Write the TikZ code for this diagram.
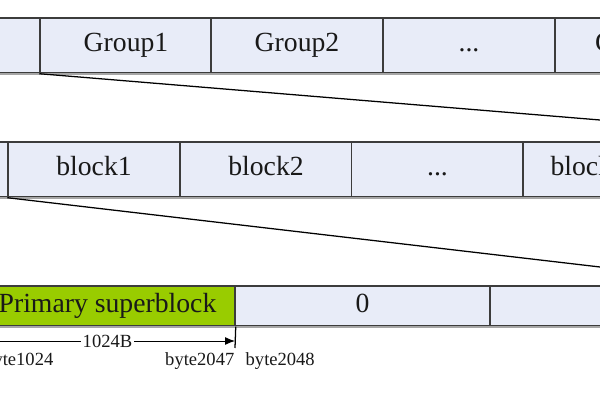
\documentclass[tikz,border=0pt]{standalone}
\usepackage{fontspec}
\setmainfont{Liberation Serif}
\usetikzlibrary{arrows.meta}
\definecolor{cellfill}{RGB}{232,236,248}
\definecolor{sbgreen}{RGB}{153,204,0}
\definecolor{edge}{RGB}{60,60,60}
\begin{document}
\begin{tikzpicture}[x=0.025cm, y=-0.025cm, >={Latex[length=7pt, width=5.5pt]},
        cell/.style={rectangle, draw=edge, fill=cellfill, line width=1pt, minimum width=4.3cm, minimum height=1.375cm, inner sep=0pt, text height=13.5pt, text depth=4.3pt, font=\fontsize{19.7}{22}\selectfont, text=black!90},
        wide/.style={cell, minimum width=6.375cm, minimum height=1cm},
        small/.style={font=\fontsize{13.2}{15}\selectfont, inner sep=1pt, text=black!90}]
        \useasboundingbox (0,0) rectangle (600,400);
        \clip (0,0) rectangle (600,400);
        % groups
        \node[cell] (g0) at (-46, 45.5) {};
        \node[cell] (g1) at (126, 45.5) {Group1};
        \node[cell] (g2) at (297, 45.5) {Group2};
        \node[cell] (g3) at (469, 45.5) {...};
        \node[cell] (gn) at (641, 45.5) {Group n};
        \draw[gray!70, line width=1.6pt] (g0.south west) -- (gn.south east);
        % blocks
        \node[cell] (b0) at (-78, 169.5) {};
        \node[cell] (b1) at (94, 169.5) {block1};
        \node[cell] (b2) at (266, 169.5) {block2};
        \node[cell] (b3) at (437.5, 169.5) {...};
        \node[cell] (bn) at (609, 169.5) {block8191};
        \draw[gray!70, line width=1.6pt] (b0.south west) -- (bn.south east);
        % bytes
        \node[wide, fill=sbgreen] (sb) at (107.5, 306) {Primary superblock};
        \node[wide] (z0) at (362.5, 306) {0};
        \node[wide] (z1) at (617.5, 306) {};
        \draw[gray!70, line width=1.6pt] (sb.south west) -- (z1.south east);
        % zoom lines
        \coordinate (m1) at (600, 120);
        \coordinate (m2) at (600, 267);
        \draw[line width=0.9pt] (g1.south west) -- (m1);
        \draw[line width=0.9pt] (b1.south west) -- (m2);
        % size of superblock
        \coordinate (szl) at (-20, 341);
        \coordinate (szr) at (235, 341);
        \coordinate (tk) at (235, 348);
        \draw[line width=0.9pt] (sb.south east) -- (tk);
        \draw[<->, line width=0.6pt] (szl) -- node[small, fill=white] {1024B} (szr);
        \node[small, anchor=east] (by1) at (55, 361) {byte1024};
        \node[small, anchor=east] (by2) at (236, 361) {byte2047};
        \node[small, anchor=west] (by3) at (244, 361) {byte2048};
    \end{tikzpicture}
\end{document}
